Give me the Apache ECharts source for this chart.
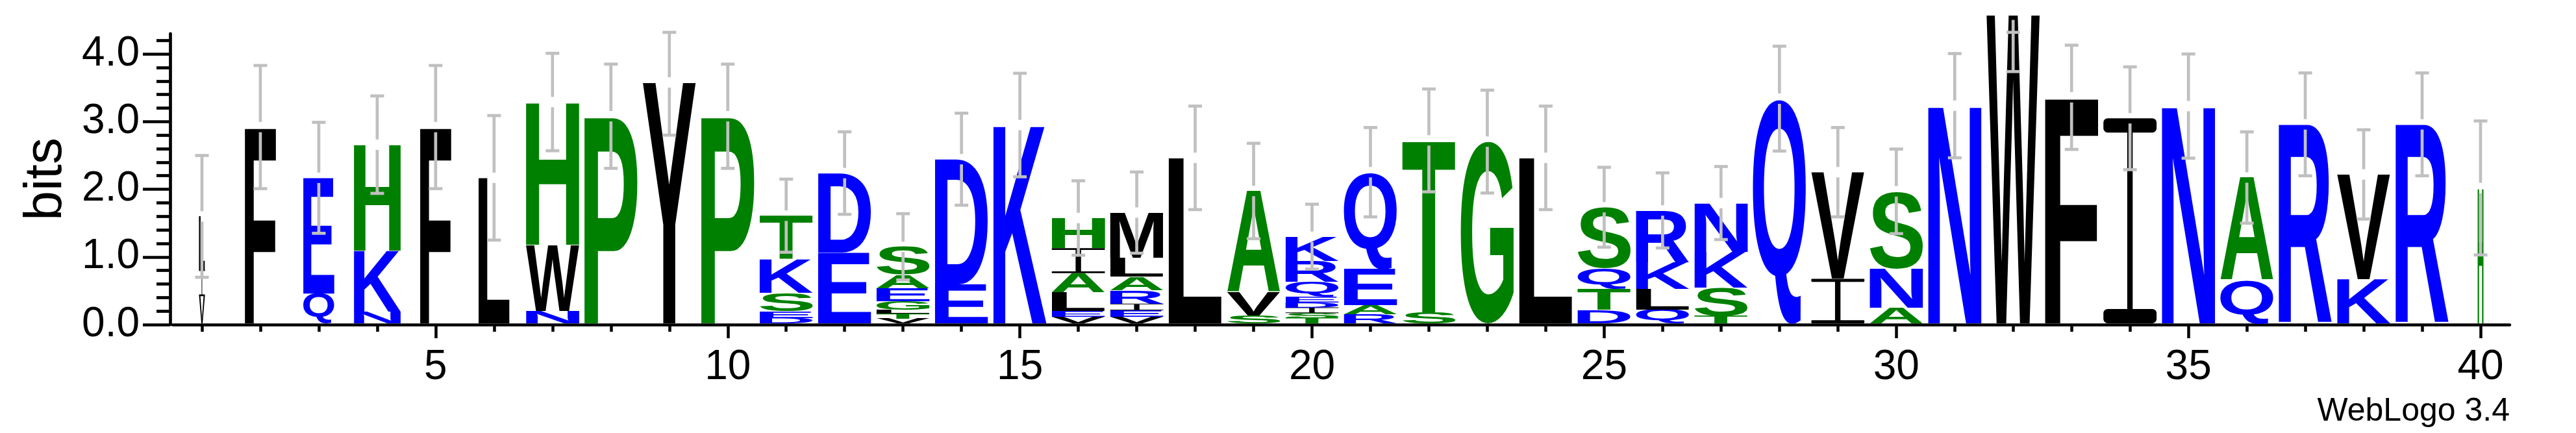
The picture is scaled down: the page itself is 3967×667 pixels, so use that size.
<!DOCTYPE html>
<html>
<head>
<meta charset="utf-8">
<script src="https://cdn.jsdelivr.net/npm/echarts@6/dist/echarts.min.js"></script>
<style>
html,body{margin:0;padding:0;background:#ffffff;}
#chart{width:3967px;height:667px;}
</style>
</head>
<body>
<div id="chart"></div>
<script>
// ---------------- data ----------------
const positions = ['1','2','3','4','5','6','7','8','9','10','11','12','13','14','15','16','17','18','19','20',
                   '21','22','23','24','25','26','27','28','29','30','31','32','33','34','35','36','37','38','39','40'];
// letters of each stack, bottom -> top
const stackLetters = ['VIL','F','QE','NKH','F','L','NWH','P','Y','P',
                      'DESKT','ED','VTLGEAS','ED','K','VELAIH','VEIRALM','L','SVA','TSIDEQRK',
                      'RAEQ','ST','G','L','DTQS','QLKR','TSKN','Q','IV','ANS',
                      'N','W','F','I','N','QA','R','KV','R','H'];
// height (bits) of each letter, bottom -> top
const stackBits = [
  [0.40,0.40,0.78],[2.90],[0.44,1.71],[0.17,0.90,1.57],[2.90],[2.15],[0.185,0.975,2.11],[3.06],[3.56],[3.06],
  [0.08,0.10,0.27,0.50,0.64],[1.05,1.17],[0.07,0.07,0.06,0.13,0.19,0.20,0.41],[0.575,1.85],[2.93],
  [0.096,0.085,0.28,0.28,0.37,0.445],[0.096,0.095,0.10,0.20,0.20,0.28,0.665],[2.445],[0.116,0.344,1.495],
  [0.08,0.07,0.085,0.075,0.08,0.225,0.31,0.355],
  [0.134,0.13,0.536,1.433],[0.158,2.545],[2.685],[2.445],[0.20,0.31,0.305,0.90],[0.202,0.305,0.39,0.771],
  [0.11,0.417,0.528,0.722],[3.32],[0.658,1.575],[0.23,0.58,1.14],
  [3.216],[4.56],[3.34],[3.03],[3.21],[0.637,1.517],[2.94],[0.65,1.55],[2.94],[2.0]
];
// relative stack width (fraction of non-gap symbols)
const stackWidth = [0.11,0.585,0.585,0.88,0.585,0.585,1,1,1,1,
                    1,1,1,1,1,1,1,1,1,1,
                    1,1,1,1,1,1,1,1,1,1,
                    1,1,1,1,1,1,1,1,1,0.11];
// half-length of the error bar (bits)
const errorBits = [0.90,0.91,0.82,0.72,0.91,0.92,0.72,0.77,0.78,0.77,
                   0.54,0.61,0.49,0.68,0.765,0.55,0.60,0.765,0.705,0.48,
                   0.66,0.76,0.76,0.765,0.59,0.555,0.54,0.775,0.66,0.625,
                   0.77,0.84,0.77,0.76,0.77,0.675,0.76,0.66,0.76,0.99];
const yMajorTicks = [0,1,2,3,4];
const yMinorTicks = [0.2,0.4,0.6,0.8,1.2,1.4,1.6,1.8,2.2,2.4,2.6,2.8,3.2,3.4,3.6,3.8,4.2];
const xLabelEvery = 5;
const yMax = 4.3;

// ---------------- styles ----------------
const colorOf = {};
'RKDENQ'.split('').forEach(c => colorOf[c] = '#0000ff');
'SGHTAP'.split('').forEach(c => colorOf[c] = '#008000');
'YVMCLFIW'.split('').forEach(c => colorOf[c] = '#000000');
const FONT = 'bold 200px "Liberation Sans"';
const LETTER_FILL = 0.91;
const BASE_LIFT = 2;
const BAR_COLOR = '#c0c0c0';

// build flat letter list from the arrays
const letterItems = [];
stackLetters.forEach((s, i) => {
  let cum = 0;
  s.split('').forEach((ch, k) => {
    const h = stackBits[i][k];
    letterItems.push({pos: i, letter: ch, bottom: cum, top: cum + h, width: stackWidth[i]});
    cum += h;
  });
});
const stackTops = stackBits.map(a => a.reduce((p, q) => p + q, 0));

const mctx = document.createElement('canvas').getContext('2d');
const mcache = {};
function glyphMetrics(ch, font) {
  const key = font + '|' + ch;
  if (!mcache[key]) {
    mctx.font = font;
    mctx.textAlign = 'left';
    mctx.textBaseline = 'middle';
    const m = mctx.measureText(ch);
    mcache[key] = {l: m.actualBoundingBoxLeft, r: m.actualBoundingBoxRight,
                   a: m.actualBoundingBoxAscent, d: m.actualBoundingBoxDescent};
  }
  return mcache[key];
}

// a glyph stretched so that its ink fills the box exactly
function fittedGlyph(ch, left, top, w, h, fill) {
  const m = glyphMetrics(ch, FONT);
  const sx = w / (m.l + m.r);
  const sy = h / (m.a + m.d);
  return {
    type: 'text',
    x: left + sx * m.l,
    y: top + sy * m.a,
    scaleX: sx,
    scaleY: sy,
    silent: true,
    style: {text: ch, x: 0, y: 0, font: FONT, fill: fill, align: 'left', verticalAlign: 'middle'}
  };
}

function renderLetter(params, api) {
  const it = letterItems[params.dataIndex];
  const p0 = api.coord([api.value(0), api.value(1)]);
  const p1 = api.coord([api.value(0), api.value(2)]);
  const band = api.size([1, 0])[0];
  const w = band * LETTER_FILL * it.width;
  const left = p0[0] - w / 2;
  const bottom = p0[1] - BASE_LIFT;
  const top = p1[1] - BASE_LIFT;
  const h = bottom - top;
  if (h <= 0.2) return;
  const fill = colorOf[it.letter] || '#000';
  if (it.letter === 'I') {
    // serifed I: thin stem with two rounded bars
    const stemW = Math.max(1, w * 0.107);
    const capH = Math.max(1, h * 0.07);
    const r = capH * 0.3;
    return {
      type: 'group', silent: true,
      children: [
        fittedGlyph('I', p0[0] - stemW / 2, top + capH * 0.5, stemW, h - capH, fill),
        {type: 'rect', shape: {x: left, y: top, width: w, height: capH, r: r}, style: {fill: fill}},
        {type: 'rect', shape: {x: left, y: bottom - capH, width: w, height: capH, r: r}, style: {fill: fill}}
      ]
    };
  }
  return fittedGlyph(it.letter, left, top, w, h, fill);
}

function renderError(params, api) {
  const i = api.value(0), top = api.value(1), err = api.value(2);
  const hiV = Math.min(top + err, yMax);
  const x = api.coord([i, 0])[0];
  const yT = api.coord([i, top])[1] - BASE_LIFT;
  const yH = api.coord([i, hiV])[1] - BASE_LIFT;
  const yL = api.coord([i, top - err])[1] - BASE_LIFT;
  const gap = 8, cap = 10.5;
  const st = {stroke: BAR_COLOR, lineWidth: 4.7};
  const ch = [];
  if (yH < yT - gap) ch.push({type: 'line', shape: {x1: x, y1: yH, x2: x, y2: yT - gap}, style: st});
  if (yL > yT + gap) ch.push({type: 'line', shape: {x1: x, y1: yT + gap, x2: x, y2: yL}, style: st});
  ch.push({type: 'line', shape: {x1: x - cap, y1: yH, x2: x + cap, y2: yH}, style: st});
  ch.push({type: 'line', shape: {x1: x - cap, y1: yL, x2: x + cap, y2: yL}, style: st});
  return {type: 'group', children: ch, silent: true};
}

const chart = echarts.init(document.getElementById('chart'), null, {renderer: 'canvas'});
const axisFont = {fontFamily: 'Liberation Sans', fontSize: 64, color: '#000'};
chart.setOption({
  animation: false,
  backgroundColor: '#ffffff',
  grid: {left: 266, right: 102, top: 51.8, bottom: 167, containLabel: false},
  xAxis: [
    {type: 'category', data: positions, gridIndex: 0, position: 'bottom', boundaryGap: true,
     axisLine: {show: true, lineStyle: {color: '#000', width: 4.5}},
     axisTick: {show: true, alignWithLabel: true, interval: 0, length: 11, lineStyle: {color: '#000', width: 4.5}},
     axisLabel: {show: true, margin: 34, ...axisFont,
                 interval: (idx) => (idx + 1) % xLabelEvery === 0},
     splitLine: {show: false}},
    {type: 'category', data: positions, gridIndex: 0, position: 'bottom', boundaryGap: true,
     axisLine: {show: false},
     axisTick: {show: true, alignWithLabel: true, length: 21, lineStyle: {color: '#000', width: 4.5},
                interval: (idx) => (idx + 1) % xLabelEvery === 0},
     axisLabel: {show: false}, splitLine: {show: false}}
  ],
  yAxis: [
    {type: 'value', min: 0, max: yMax, position: 'left', offset: 4,
     name: 'bits', nameLocation: 'middle', nameRotate: 90, nameGap: 150,
     nameTextStyle: {fontFamily: 'Liberation Sans', fontSize: 82, color: '#000'},
     axisLine: {show: true, lineStyle: {color: '#000', width: 4.7}},
     axisTick: {show: true, length: 42, customValues: yMajorTicks, lineStyle: {color: '#000', width: 4.7}},
     axisLabel: {show: true, margin: 47, customValues: yMajorTicks, ...axisFont,
                 formatter: (v) => Number(v).toFixed(1)},
     splitLine: {show: false}},
    {type: 'value', min: 0, max: yMax, position: 'left', offset: 4,
     axisLine: {show: false},
     axisTick: {show: true, length: 21, customValues: yMinorTicks, lineStyle: {color: '#000', width: 4.7}},
     axisLabel: {show: false}, splitLine: {show: false}}
  ],
  graphic: [
    {type: 'text', x: 3865, y: 659, silent: true,
     style: {text: 'WebLogo 3.4', font: '50px "Liberation Sans"', fill: '#000', align: 'right', verticalAlign: 'bottom'}}
  ],
  series: [
    {type: 'custom', name: 'letters', xAxisIndex: 0, yAxisIndex: 0, clip: false,
     renderItem: renderLetter,
     data: letterItems.map(d => [d.pos, d.bottom, d.top]),
     encode: {x: 0, y: [1, 2]}},
    {type: 'custom', name: 'errors', xAxisIndex: 0, yAxisIndex: 0, clip: false, z: 5,
     renderItem: renderError,
     data: stackTops.map((t, i) => [i, t, errorBits[i]]),
     encode: {x: 0, y: [1]}}
  ]
});
</script>
</body>
</html>
